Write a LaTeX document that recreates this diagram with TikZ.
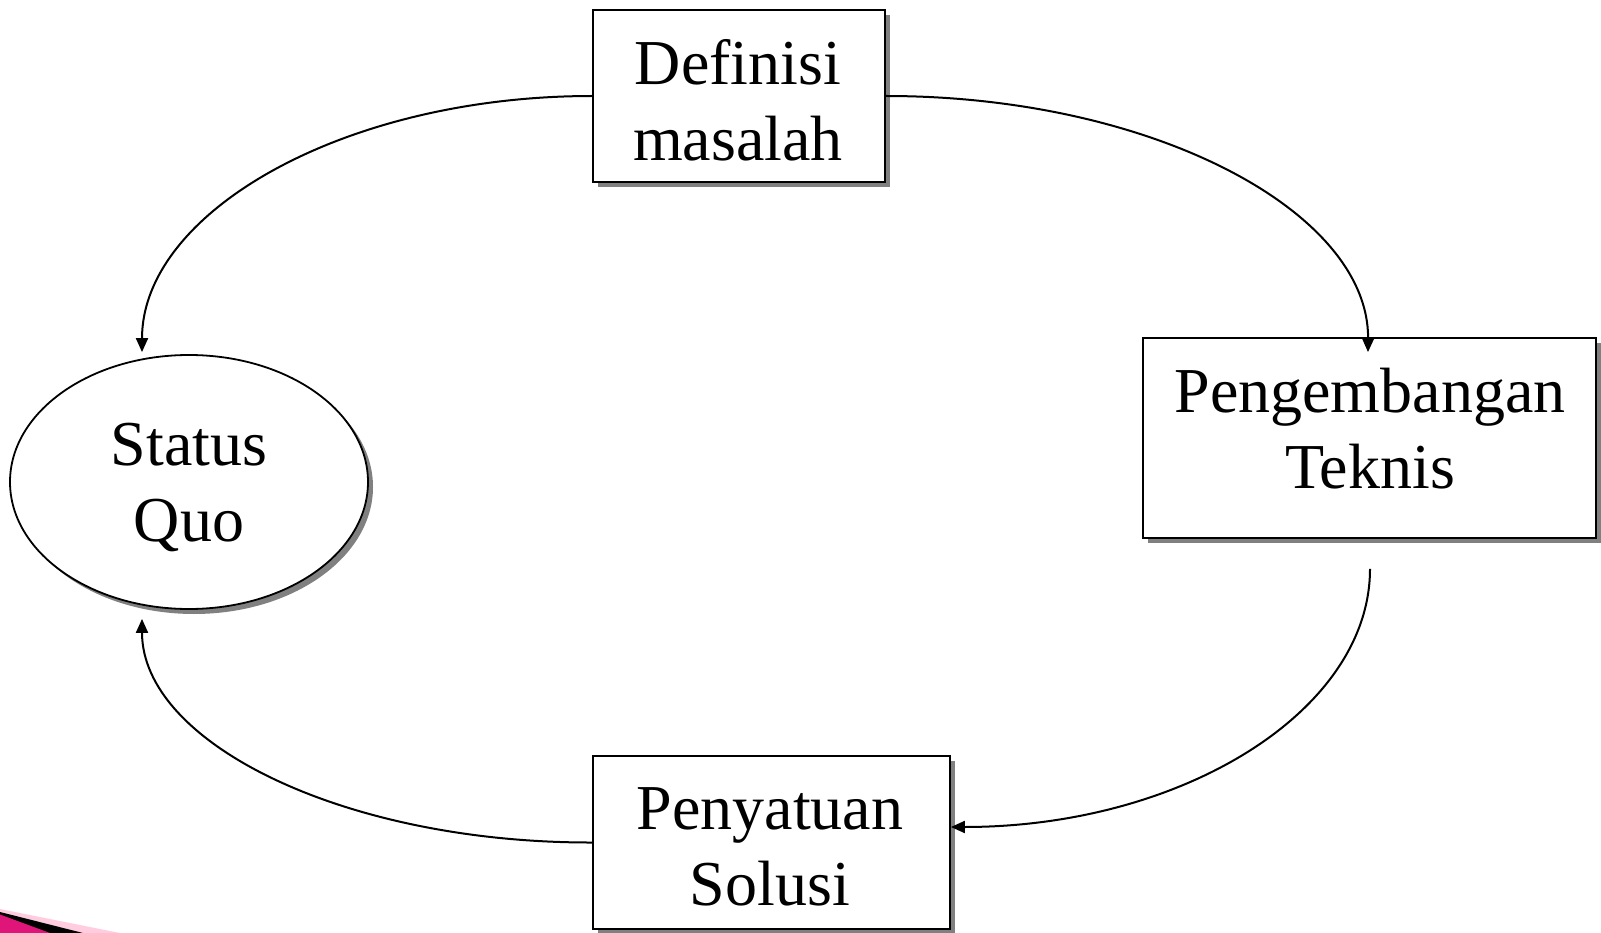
\documentclass[tikz,border=0pt]{standalone}
\usepackage{fontspec}
\setmainfont{Liberation Serif}
\usetikzlibrary{arrows.meta,shadows,shapes.geometric}

\definecolor{swoosh}{HTML}{E0157A}
\definecolor{swooshlight}{HTML}{FFCCE0}

\tikzset{
  shade box/.style={draw=black, line width=1.8pt, fill=white,
    drop shadow={shadow xshift=5pt, shadow yshift=-5pt, fill=black!50, opacity=1}},
  stepbox/.style={shade box, rectangle, inner sep=0pt},
  oval/.style={shade box, ellipse, inner sep=0pt},
  caption/.style={anchor=north, inner sep=0pt, align=center,
    font=\fontsize{64}{76}\selectfont},
  flow/.style={line width=2pt, -{Triangle[length=14pt,width=12pt]}},
}

\begin{document}
\begin{tikzpicture}[x=1pt, y=-1pt]
  \useasboundingbox (0,0) rectangle (1601,933);

  % corner ornament
  \fill[swooshlight] (0,909) -- (120,933) -- (0,933) -- cycle;
  \fill[black] (0,912) -- (83,933) -- (0,933) -- cycle;
  \fill[swoosh] (0,914.5) -- (50,933) -- (0,933) -- cycle;

  % stages
  \node[stepbox, minimum width=292pt, minimum height=172pt] (def) at (739,96) {};
  \node[stepbox, minimum width=453pt, minimum height=200pt] (pe) at (1369.5,438) {};
  \node[stepbox, minimum width=357pt, minimum height=173pt] (ps) at (771.5,842.5) {};
  \node[oval, minimum width=358pt, minimum height=254pt] (sq) at (189,482) {};

  % stage labels
  \node[caption] (def-t) at (738,39) {Definisi\\masalah};
  \node[caption] (pe-t) at (1370,368) {Pengembangan\\Teknis};
  \node[caption] (ps-t) at (770,787) {Penyatuan\\Solusi};
  \node[caption] (sq-t) at (189,423) {Status\\Quo};

  % cycle connectors
  \draw[flow] (def.west) .. controls (344,96) and (142,212) .. ([xshift=-47pt,yshift=2pt]sq.north);
  \draw[flow] (def.east) .. controls (1153,96) and (1369,212) .. ([xshift=-1.5pt,yshift=-15pt]pe.north);
  \draw[flow] ([xshift=0.5pt,yshift=-30pt]pe.south) .. controls (1370,711) and (1182,827) .. ([yshift=15.5pt]ps.east);
  \draw[flow] (ps.west) .. controls (344,843) and (142,743) .. ([xshift=-47pt,yshift=-9pt]sq.south);
\end{tikzpicture}
\end{document}
